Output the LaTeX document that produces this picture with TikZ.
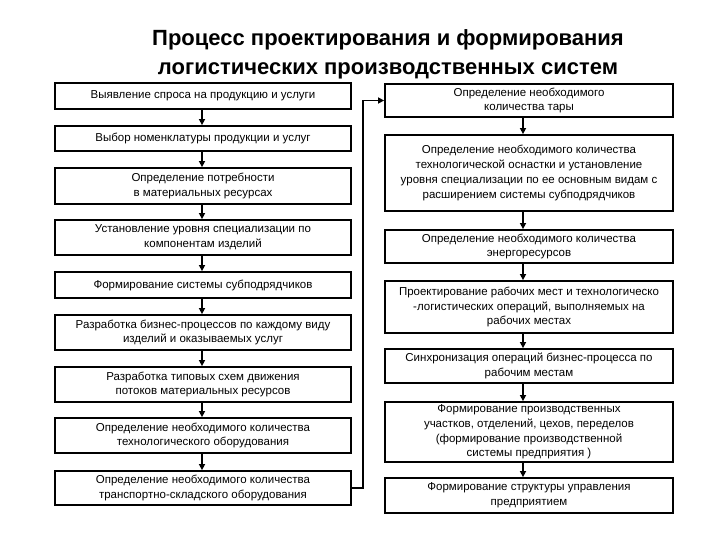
\documentclass[tikz,border=0pt]{standalone}
\usepackage{fontspec}
\setmainfont{Liberation Sans}
\usetikzlibrary{arrows.meta}
\begin{document}
\begin{tikzpicture}[x=1pt,y=-1pt,
  box/.style={draw=black, line width=1.8pt, align=center, inner sep=0pt,
    font=\fontsize{11.5}{14.8}\selectfont},
  lbox/.style={box, minimum width=296pt},
  rbox/.style={box, minimum width=288pt},
  arr/.style={line width=1.6pt, -{Triangle[length=6pt,width=6pt]}},
  ttl/.style={font=\fontsize{22}{29}\selectfont\bfseries, align=center}]
\useasboundingbox (0,0) rectangle (720,540);
\node[ttl] (title) at (388,54) {Процесс проектирования и формирования\\логистических производственных систем};
% left column
\node[lbox, minimum height=26pt] (l1) at (203,96) {Выявление спроса на продукцию и услуги};
\node[lbox, minimum height=25pt] (l2) at (203,138.5) {Выбор номенклатуры продукции и услуг};
\node[lbox, minimum height=36pt] (l3) at (203,186) {Определение потребности\\в материальных ресурсах};
\node[lbox, minimum height=35pt] (l4) at (203,237.5) {Установление уровня специализации по\\компонентам изделий};
\node[lbox, minimum height=26pt] (l5) at (203,285) {Формирование системы субподрядчиков};
\node[lbox, minimum height=35pt] (l6) at (203,332.5) {Разработка бизнес-процессов по каждому виду\\изделий и оказываемых услуг};
\node[lbox, minimum height=35pt] (l7) at (203,384.5) {Разработка типовых схем движения\\потоков материальных ресурсов};
\node[lbox, minimum height=35pt] (l8) at (203,435.5) {Определение необходимого количества\\технологического оборудования};
\node[lbox, minimum height=34pt] (l9) at (203,488) {Определение необходимого количества\\транспортно-складского оборудования};
% right column
\node[rbox, minimum height=33pt] (r1) at (529,100.5) {Определение необходимого\\количества тары};
\node[rbox, minimum height=76pt] (r2) at (529,173) {Определение необходимого количества\\технологической оснастки и установление\\уровня специализации по ее основным видам с\\расширением системы субподрядчиков};
\node[rbox, minimum height=33pt] (r3) at (529,246.5) {Определение необходимого количества\\энергоресурсов};
\node[rbox, minimum height=52pt] (r4) at (529,307) {Проектирование рабочих мест и технологическо\\-логистических операций, выполняемых на\\рабочих местах};
\node[rbox, minimum height=34pt] (r5) at (529,366) {Синхронизация операций бизнес-процесса по\\рабочим местам};
\node[rbox, minimum height=60pt] (r6) at (529,432) {Формирование производственных\\участков, отделений, цехов, переделов\\(формирование производственной\\системы предприятия )};
\node[rbox, minimum height=35pt] (r7) at (529,495.5) {Формирование структуры управления\\предприятием};
% left arrows
\foreach \a/\b in {l1/l2,l2/l3,l3/l4,l4/l5,l5/l6,l6/l7,l7/l8,l8/l9}
  \draw[arr] ([xshift=-1pt]\a.south) -- ([xshift=-1pt]\b.north);
% right arrows
\foreach \a/\b in {r1/r2,r2/r3,r3/r4,r4/r5,r5/r6,r6/r7}
  \draw[arr] ([xshift=-6pt]\a.south) -- ([xshift=-6pt]\b.north);
% connector
\coordinate (c1) at (363,488);
\coordinate (c2) at (363,100.5);
\draw[arr, line join=miter] (l9.east) -- (c1) -- (c2) -- (r1.west);
\end{tikzpicture}
\end{document}
